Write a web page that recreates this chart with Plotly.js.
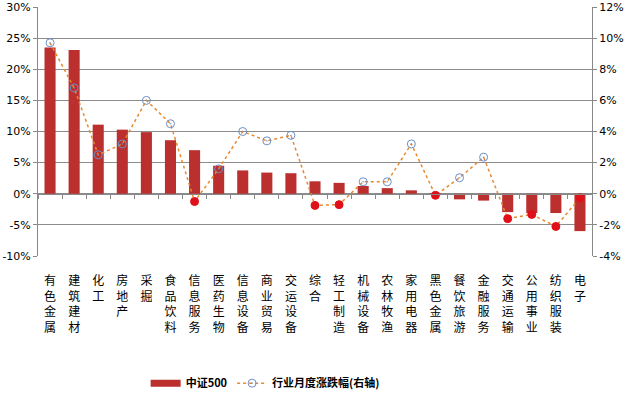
<!DOCTYPE html>
<html><head><meta charset="utf-8">
<script src="https://cdn.plot.ly/plotly-3.0.1.min.js"></script>
<style>html,body{margin:0;padding:0;background:#fff}#chart{width:630px;height:393px}</style>
</head><body><div id="chart"></div>
<script>
const categories = ["有色金属","建筑建材","化工","房地产","采掘","食品饮料","信息服务","医药生物","信息设备","商业贸易","交运设备","综合","轻工制造","机械设备","农林牧渔","家用电器","黑色金属","餐饮旅游","金融服务","交通运输","公用事业","纺织服装","电子"];
const csi500 = [23.5,23.1,11.1,10.3,9.9,8.6,7.0,4.5,3.75,3.4,3.3,2.0,1.75,1.25,0.9,0.55,0.1,-0.9,-1.1,-2.95,-3.1,-3.1,-6.0];
const monthly = [9.7,6.8,2.5,3.2,6.0,4.5,-0.5,1.6,4.0,3.4,3.75,-0.75,-0.7,0.77,0.77,3.2,-0.1,1.03,2.35,-1.6,-1.33,-2.1,-0.26];
const leftTicks = [-10,-5,0,5,10,15,20,25,30];
const rightTicks = [-4,-2,0,2,4,6,8,10,12];

const xLabels = categories.map(c => c.split('').join('<br>'));
const syms = monthly.map(v => v >= 0 ? 'circle-open-dot' : 'circle');
const mcol = monthly.map(v => v >= 0 ? '#6d8fc4' : '#e0101a');
const xr = [-0.5, categories.length - 0.5];

const traces = [
  {type:'bar', x:categories, y:csi500, name:'中证500', marker:{color:'#bb2f2e'}, width:0.46, xaxis:'x', yaxis:'y', showlegend:false},
  {type:'scatter', mode:'lines', x:categories, y:csi500.map(()=>null), name:'中证500', xaxis:'x', yaxis:'y',
   line:{color:'#bb2f2e', width:7}, showlegend:true, hoverinfo:'skip'},
  {type:'scatter', mode:'lines+markers', x:categories, y:monthly, name:'行业月度涨跌幅(右轴)', xaxis:'x', yaxis:'y2',
   line:{color:'#e8892e', width:1.5, dash:'dot'},
   marker:{symbol:syms, color:mcol, size:8, line:{color:mcol, width:1}}},
  {type:'scatter', x:categories, y:csi500.map(()=>null), xaxis:'x2', yaxis:'y', showlegend:false, hoverinfo:'skip'}
];

const layout = {
  width:630, height:393,
  margin:{l:38, r:38, t:7, b:137, autoexpand:false},
  paper_bgcolor:'#fff', plot_bgcolor:'#fff',
  font:{family:'"Noto Sans CJK SC", "Liberation Sans", sans-serif', color:'#000'},
  showlegend:true,
  legend:{orientation:'h', x:0.41, xanchor:'center', yref:'container', y:0.025, yanchor:'middle',
          font:{size:11, family:'"Noto Sans CJK SC", sans-serif', weight:'bold'}},
  xaxis:{type:'category', range:xr, autorange:false, automargin:false, tickvals:categories, ticktext:xLabels, showline:false, ticks:'', showgrid:false,
         tickfont:{size:12, family:'"Noto Sans CJK SC", sans-serif'}, ticklabelstandoff:16, tickangle:0},
  xaxis2:{type:'category', range:xr, autorange:false, automargin:false, overlaying:'x', anchor:'free', position:0.25, side:'bottom',
          showline:true, linecolor:'#888', linewidth:1, ticks:'outside', ticklen:4, tickcolor:'#888',
          tickson:'boundaries', showticklabels:false, showgrid:false, tickvals:categories},
  yaxis:{range:[-10,30], automargin:false, tickvals:leftTicks, ticktext:leftTicks.map(v=>v+'%'), showgrid:true, gridcolor:'#8c8c8c',
         showline:true, linecolor:'#888', zeroline:false, ticks:'outside', ticklen:4, tickcolor:'#888',
         tickfont:{size:11, family:'"DejaVu Sans", sans-serif'}},
  yaxis2:{range:[-4,12], automargin:false, tickvals:rightTicks, ticktext:rightTicks.map(v=>v+'%'), overlaying:'y', side:'right',
          showgrid:false, showline:true, linecolor:'#888', zeroline:false, ticks:'outside', ticklen:4, tickcolor:'#888',
          tickfont:{size:11, family:'"DejaVu Sans", sans-serif'}}
};
Plotly.newPlot('chart', traces, layout, {displayModeBar:false, staticPlot:true});
</script></body></html>
